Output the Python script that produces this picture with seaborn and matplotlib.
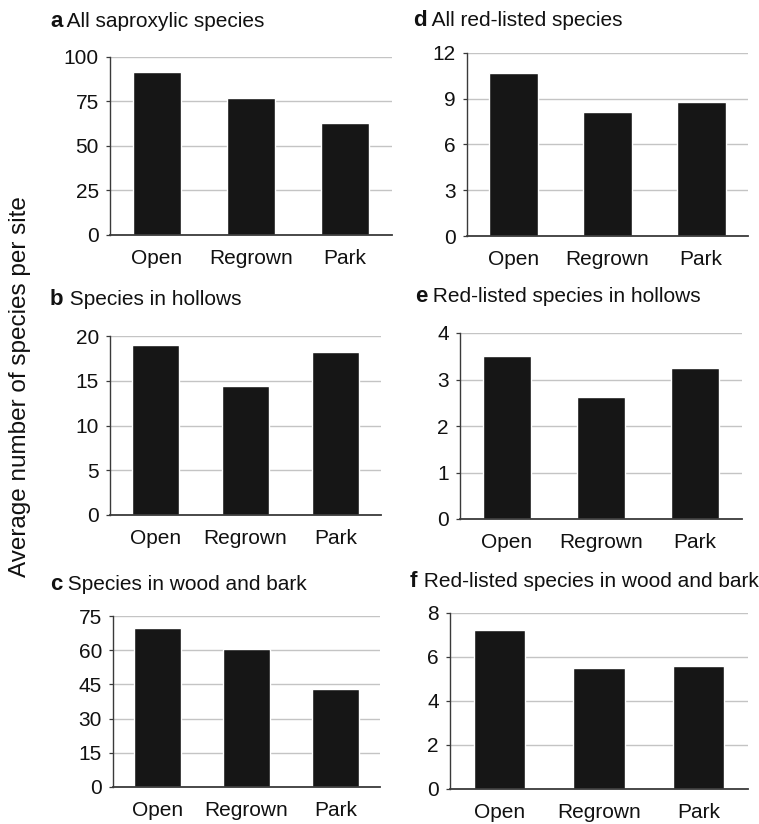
import numpy as np
import pandas as pd
import matplotlib
matplotlib.use("Agg")
import matplotlib.pyplot as plt
import seaborn as sns

# ---------------------------------------------------------------
# DATA
# ---------------------------------------------------------------
sites = ["Open", "Regrown", "Park"]

all_saproxylic = [91.5, 76.8, 62.8]
species_hollows = [19.0, 14.4, 18.2]
species_wood_bark = [69.6, 60.4, 42.8]

all_redlisted = [10.7, 8.1, 8.8]
red_hollows = [3.5, 2.62, 3.24]
red_wood_bark = [7.24, 5.52, 5.61]

letters = ["a", "b", "c", "d", "e", "f"]
titles = ["All saproxylic species", "Species in hollows", "Species in wood and bark",
          "All red-listed species", "Red-listed species in hollows",
          "Red-listed species in wood and bark"]
yticks = [[0, 25, 50, 75, 100], [0, 5, 10, 15, 20], [0, 15, 30, 45, 60, 75],
          [0, 3, 6, 9, 12], [0, 1, 2, 3, 4], [0, 2, 4, 6, 8]]
values = [all_saproxylic, species_hollows, species_wood_bark,
          all_redlisted, red_hollows, red_wood_bark]

sns.set_style("white")
plt.rcParams["font.family"] = ["Liberation Sans", "DejaVu Sans"]

W, H = 759, 824
fig = plt.figure(figsize=(W / 100, H / 100), dpi=100)

# axes boxes in pixels: left, right, top, bottom
boxes = [(110, 392, 57, 235), (110, 381, 336, 515), (113, 380, 616, 787),
         (467, 748, 53, 236), (460, 742, 333, 519), (450, 748, 613, 789)]
# title anchor (x of letter, baseline y) in pixels
title_pos = [(50, 27), (50, 305), (50, 590), (413, 26), (415, 302), (410, 587)]

BAR = "#161616"
GRID = "#c4c4c4"
SPINE = "#3a3a3a"
TXT = "#111111"

letter_texts = []
for i in range(6):
    l, r, t, b = boxes[i]
    ax = fig.add_axes([l / W, 1 - b / H, (r - l) / W, (b - t) / H])
    df = pd.DataFrame({"site": sites, "value": values[i]})
    sns.barplot(data=df, x="site", y="value", order=sites, color=BAR,
                saturation=1, width=0.52, ax=ax)
    ax.set_xlim(-0.5, 2.5)
    ax.set_ylim(0, yticks[i][-1])
    ax.set_yticks(yticks[i])
    ax.set_xlabel("")
    ax.set_ylabel("")
    ax.set_axisbelow(True)
    ax.yaxis.grid(True, color=GRID, linewidth=1.0)
    ax.xaxis.grid(False)
    for s in ["top", "right"]:
        ax.spines[s].set_visible(False)
    ax.spines["left"].set_color(SPINE)
    ax.spines["bottom"].set_color(SPINE)
    ax.spines["left"].set_linewidth(1.0)
    ax.spines["bottom"].set_linewidth(1.3)
    ax.tick_params(axis="y", left=True, length=3, width=0.9, color=SPINE,
                   labelsize=15, pad=5, labelcolor=TXT)
    ax.tick_params(axis="x", bottom=False, length=0, labelsize=15, pad=10,
                   labelcolor=TXT)

    # bold panel letter; the title text is placed after it below
    tx, ty = title_pos[i]
    let = fig.text(tx / W, 1 - ty / H, letters[i], fontsize=16, fontweight="bold",
                   ha="left", va="baseline", color=TXT)
    letter_texts.append(let)

fig.canvas.draw()
renderer = fig.canvas.get_renderer()
for i, let in enumerate(letter_texts):
    ext = let.get_window_extent(renderer)
    tx, ty = title_pos[i]
    fig.text(ext.x1 / W, 1 - ty / H, " " + titles[i], fontsize=15,
             ha="left", va="baseline", color=TXT)

fig.text(20 / W, 1 - 387 / H, "Average number of species per site", rotation=90,
         ha="center", va="center", fontsize=17.5, color=TXT)

fig.savefig("out.png", dpi=100)
